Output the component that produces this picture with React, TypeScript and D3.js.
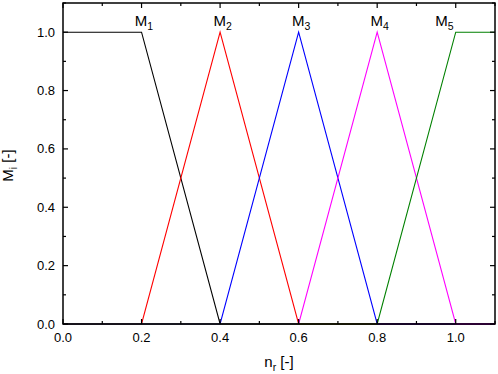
import React from "react";
import * as d3 from "d3";

const xM1 = [0, 0.2, 0.4, 1.1];
const yM1 = [1, 1, 0, 0];
const xM2 = [0, 0.2, 0.4, 0.6, 1.1];
const yM2 = [0, 0, 1, 0, 0];
const xM3 = [0, 0.4, 0.6, 0.8, 1.1];
const yM3 = [0, 0, 1, 0, 0];
const xM4 = [0, 0.6, 0.8, 1.0, 1.1];
const yM4 = [0, 0, 1, 0, 0];
const xM5 = [0, 0.8, 1.0, 1.1];
const yM5 = [0, 0, 1, 1];
const seriesNames = ["1", "2", "3", "4", "5"];
const labelX = [0.2, 0.4, 0.6, 0.8, 0.965];
const colors = ["#000000", "#ff0000", "#0000ff", "#ff00ff", "#008000"];
const xTicks = [0, 0.2, 0.4, 0.6, 0.8, 1.0];
const yTicks = [0, 0.2, 0.4, 0.6, 0.8, 1.0];
const xMinor = [0.1, 0.3, 0.5, 0.7, 0.9, 1.1];
const yMinor = [0.1, 0.3, 0.5, 0.7, 0.9, 1.1];

const W = 498, H = 374;
const L = 63, R = 495, T = 3, B = 324;
const FONT = "Liberation Sans, Arial, sans-serif";

export default function App() {
  const x = d3.scaleLinear().domain([0, 1.1]).range([L, R]);
  const y = d3.scaleLinear().domain([0, 1.1]).range([B, T]);
  const xs = [xM1, xM2, xM3, xM4, xM5];
  const ys = [yM1, yM2, yM3, yM4, yM5];
  const line = d3.line<[number, number]>().x(d => x(d[0])).y(d => y(d[1]));
  const maj = 5, mn = 3;
  return (
    <svg width={W} height={H} style={{ position: "absolute", left: 0, top: 0 }} fontFamily={FONT}>
      <rect x={0} y={0} width={W} height={H} fill="white" />
      {xs.map((xv, i) => (
        <path key={i} d={line(xv.map((v, j) => [v, ys[i][j]]) as [number, number][]) || ""}
          fill="none" stroke={colors[i]} strokeWidth={1.1} />
      ))}
      {seriesNames.map((n, i) => (
        <text key={n} x={x(labelX[i]) + 2.5} y={25.5} fontSize={15} textAnchor="middle" fill="black">
          <tspan>M</tspan><tspan fontSize={10.5} dy={4}>{n}</tspan>
        </text>
      ))}
      <rect x={L} y={T} width={R - L} height={B - T} fill="none" stroke="black" strokeWidth={1.5} />
      {xTicks.map(t => (
        <g key={"xt" + t}>
          <line x1={x(t)} x2={x(t)} y1={B} y2={B - maj} stroke="black" strokeWidth={1.2} />
          <line x1={x(t)} x2={x(t)} y1={T} y2={T + maj} stroke="black" strokeWidth={1.2} />
          <text x={x(t)} y={342} fontSize={13} textAnchor="middle">{t.toFixed(1)}</text>
        </g>
      ))}
      {xMinor.map(t => (
        <g key={"xm" + t}>
          <line x1={x(t)} x2={x(t)} y1={B} y2={B - mn} stroke="black" strokeWidth={1.2} />
          <line x1={x(t)} x2={x(t)} y1={T} y2={T + mn} stroke="black" strokeWidth={1.2} />
        </g>
      ))}
      {yTicks.map(t => (
        <g key={"yt" + t}>
          <line x1={L} x2={L + maj} y1={y(t)} y2={y(t)} stroke="black" strokeWidth={1.2} />
          <line x1={R} x2={R - maj} y1={y(t)} y2={y(t)} stroke="black" strokeWidth={1.2} />
          <text x={55} y={y(t) + 4.5} fontSize={13} textAnchor="end">{t.toFixed(1)}</text>
        </g>
      ))}
      {yMinor.map(t => (
        <g key={"ym" + t}>
          <line x1={L} x2={L + mn} y1={y(t)} y2={y(t)} stroke="black" strokeWidth={1.2} />
          <line x1={R} x2={R - mn} y1={y(t)} y2={y(t)} stroke="black" strokeWidth={1.2} />
        </g>
      ))}
      <text x={(L + R) / 2} y={367} fontSize={15} textAnchor="middle">
        <tspan>n</tspan><tspan fontSize={10.5} dy={4}>r</tspan><tspan dy={-4}> [-]</tspan>
      </text>
      <text transform={`translate(13,${(T + B) / 2 + 2}) rotate(-90)`} fontSize={15} textAnchor="middle">
        <tspan>M</tspan><tspan fontSize={10.5} dy={4}>i</tspan><tspan dy={-4}> [-]</tspan>
      </text>
    </svg>
  );
}
